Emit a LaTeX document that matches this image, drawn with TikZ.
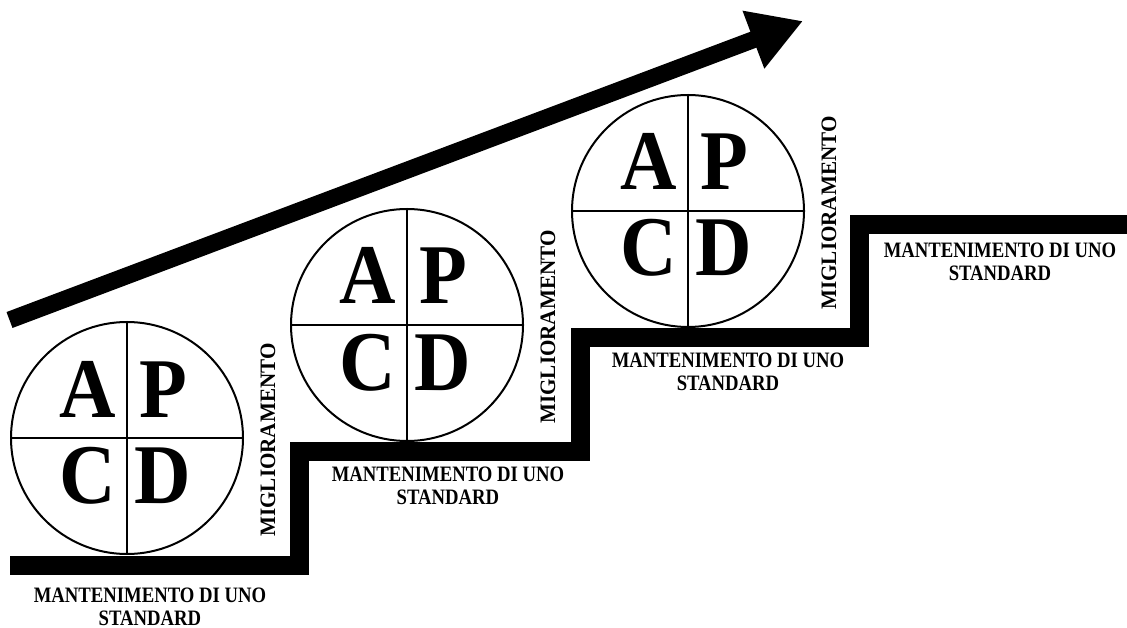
\documentclass[tikz,border=0pt]{standalone}
\usepackage{fontspec}
\setmainfont{Liberation Serif}
\usetikzlibrary{arrows.meta,calc}
\begin{document}
\begin{tikzpicture}[x=1pt,y=-1pt,
  stair/.style={line width=19pt, line join=miter, line cap=butt},
  pdca/.style={circle, draw, line width=2pt, minimum size=232pt, inner sep=0pt},
  divider/.style={line width=2.2pt},
  letter/.style={font=\bfseries\fontsize{85}{85}\selectfont, inner sep=0pt, anchor=base, xscale=0.92},
  stdtext/.style={font=\bfseries\fontsize{22}{23}\selectfont, inner sep=0pt, align=center, xscale=0.85},
  uptext/.style={font=\bfseries\fontsize{22}{22}\selectfont, inner sep=0pt, rotate=90}
]
\useasboundingbox (0,0) rectangle (1127,628);

% staircase
\coordinate (s0) at (10,565);
\coordinate (s1) at (299,565);
\coordinate (s2) at (299,451);
\coordinate (s3) at (580,451);
\coordinate (s4) at (580,337.5);
\coordinate (s5) at (859,337.5);
\coordinate (s6) at (859,225);
\coordinate (s7) at (1127,225);
\draw[stair] (s0) -- (s1) -- (s2) -- (s3) -- (s4) -- (s5) -- (s6) -- (s7);

% rising arrow
\coordinate (tail) at (9.5,320);
\coordinate (tip) at (803,21);
\draw[line width=17pt, -{Triangle[length=53pt,width=58pt]}] (tail) -- (tip);

% PDCA wheels
\foreach \n/\cx/\cy in {1/127/438, 2/407/325, 3/688/211}{
  \node[pdca] (c\n) at (\cx,\cy) {};
  \draw[divider] (c\n.north) -- (c\n.south);
  \draw[divider] (c\n.west) -- (c\n.east);
  \node[letter] (a\n) at ($(c\n.center)+(-39,-21)$) {A};
  \node[letter] (p\n) at ($(c\n.center)+(36,-21)$) {P};
  \node[letter] (cc\n) at ($(c\n.center)+(-39,65)$) {C};
  \node[letter] (d\n) at ($(c\n.center)+(36,65)$) {D};
  \node[uptext] (m\n) at ($(c\n.center)+(141,2)$) {\scalebox{0.96}[1]{MIGLIORAMENTO}};
}

% standard labels
\node[stdtext] (t1) at (150,606.5) {MANTENIMENTO DI UNO\\STANDARD};
\node[stdtext] (t2) at (448,486) {MANTENIMENTO DI UNO\\STANDARD};
\node[stdtext] (t3) at (728,372) {MANTENIMENTO DI UNO\\STANDARD};
\node[stdtext] (t4) at (1000,262) {MANTENIMENTO DI UNO\\STANDARD};
\end{tikzpicture}
\end{document}
